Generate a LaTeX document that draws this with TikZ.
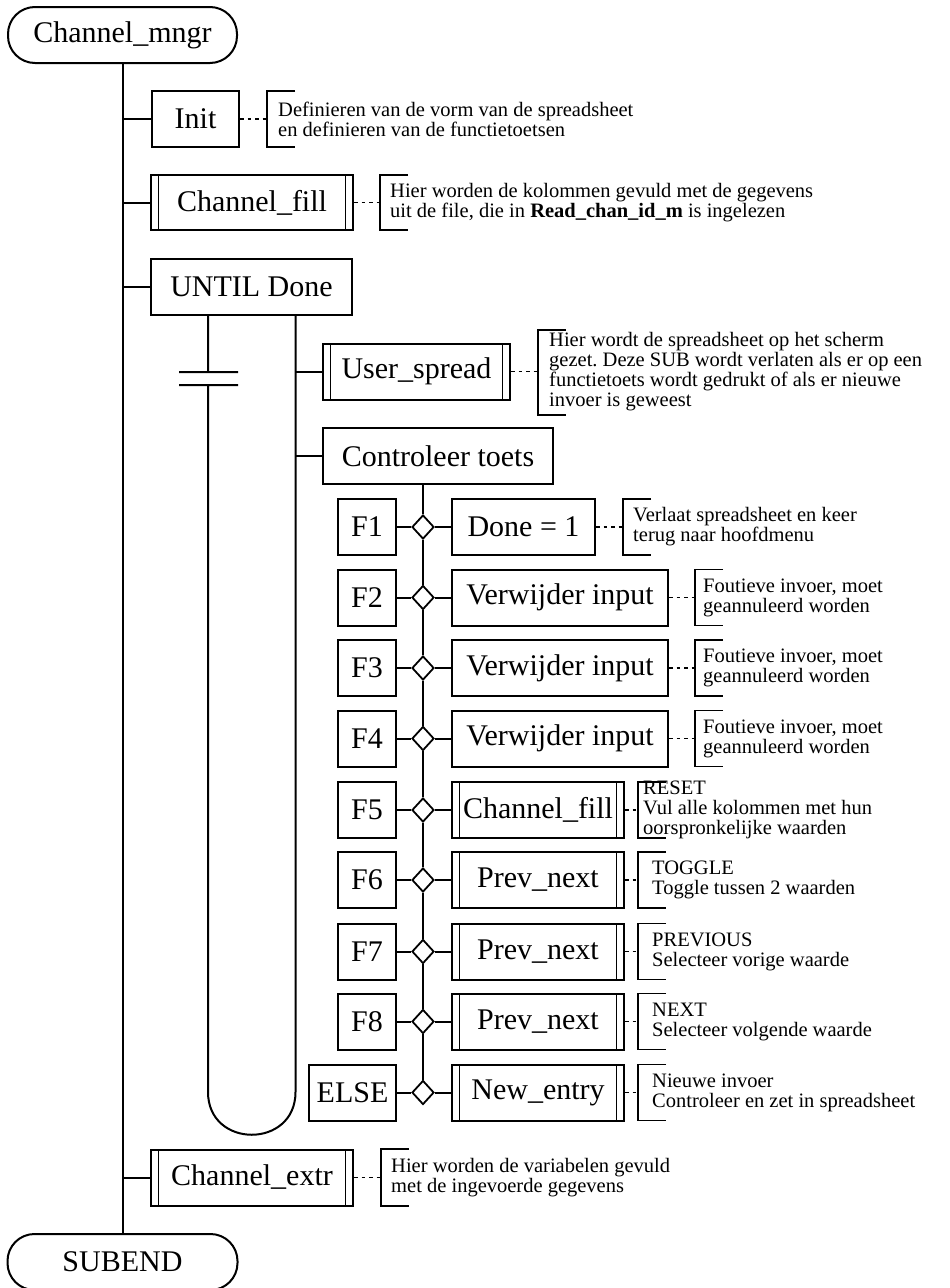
\documentclass[tikz,border=0pt]{standalone}
\usepackage{fontspec}
\setmainfont{Liberation Serif}
\usetikzlibrary{shapes.geometric}
\frenchspacing

% comment bracket: source node, name, bracket x, mid y, top y, bottom y, text x, text
\newcommand\cmt[8]{%
  \coordinate (#2) at (#3,#4);
  \draw[dots] (#1.east) -- (#2);
  \draw[brk] (#3+28,#5) -- (#3,#5) -- (#3,#6) -- (#3+28,#6);
  \node[note] (#2t) at (#7,#4) {#8};}

\tikzset{
  box/.style={draw, rectangle, minimum height=56pt, inner sep=0pt, line width=2pt,
    font=\fontsize{30}{32}\selectfont},
  term/.style={box, rounded corners=27pt},
  sub/.style={box, path picture={
    \draw[line width=1.8pt]
      ([xshift=7.5pt]path picture bounding box.north west) -- ([xshift=7.5pt]path picture bounding box.south west)
      ([xshift=-7.5pt]path picture bounding box.north east) -- ([xshift=-7.5pt]path picture bounding box.south east);}},
  dia/.style={diamond, draw, fill=white, minimum width=22pt, minimum height=24pt,
    inner sep=0pt, line width=1.8pt},
  dots/.style={line width=1.5pt, dash pattern=on 3.5pt off 4pt},
  brk/.style={line width=1.6pt},
  note/.style={anchor=west, align=left, inner sep=0pt, font=\fontsize{20.5}{20}\selectfont},
  wire/.style={line width=2pt}
}

\begin{document}
\begin{tikzpicture}[x=1pt,y=-1pt]
\fill[white] (0,0) rectangle (950,1288);
\useasboundingbox (0,0) rectangle (950,1288);

% main sequence
\node[term, minimum width=229pt] (cm) at (122.5,35) {Channel\_mngr};
\node[box, minimum width=87pt] (init) at (195.5,119) {Init};
\node[sub, minimum width=202pt, minimum height=55pt] (cf) at (252,202.5) {Channel\_fill};
\node[box, minimum width=201pt] (ud) at (251.5,287) {UNTIL Done};
\node[sub, minimum width=202pt] (cx) at (252,1177.5) {Channel\_extr};
\node[term, minimum width=230pt] (se) at (122.5,1262) {SUBEND};

% loop body
\node[sub, minimum width=187pt] (us) at (416.5,371.5) {User\_spread};
\node[box, minimum width=230pt] (ct) at (438,456) {Controleer toets};

% case selection
\node[box, minimum width=58pt] (k1) at (367,527) {F1};
\node[box, minimum width=58pt] (k2) at (367,597.5) {F2};
\node[box, minimum width=58pt] (k3) at (367,668) {F3};
\node[box, minimum width=58pt] (k4) at (367,738.5) {F4};
\node[box, minimum width=58pt] (k5) at (367,810) {F5};
\node[box, minimum width=58pt] (k6) at (367,880) {F6};
\node[box, minimum width=58pt] (k7) at (367,951.5) {F7};
\node[box, minimum width=58pt] (k8) at (367,1021.5) {F8};
\node[box, minimum width=87pt] (k9) at (352.5,1092.5) {ELSE};

\node[dia] (d1) at (423,527) {};
\node[dia] (d2) at (423,597.5) {};
\node[dia] (d3) at (423,668) {};
\node[dia] (d4) at (423,738.5) {};
\node[dia] (d5) at (423,810) {};
\node[dia] (d6) at (423,880) {};
\node[dia] (d7) at (423,951.5) {};
\node[dia] (d8) at (423,1021.5) {};
\node[dia] (d9) at (423,1092.5) {};

\node[box, minimum width=143pt] (a1) at (523.5,527) {Done = 1};
\node[box, minimum width=216pt] (a2) at (560,597.5) {Verwijder input};
\node[box, minimum width=216pt] (a3) at (560,668) {Verwijder input};
\node[box, minimum width=216pt] (a4) at (560,738.5) {Verwijder input};
\node[sub, minimum width=172pt] (a5) at (538,810) {Channel\_fill};
\node[sub, minimum width=172pt] (a6) at (538,880) {Prev\_next};
\node[sub, minimum width=172pt] (a7) at (538,951.5) {Prev\_next};
\node[sub, minimum width=172pt] (a8) at (538,1021.5) {Prev\_next};
\node[sub, minimum width=172pt] (a9) at (538,1092.5) {New\_entry};

% connectors
\draw[wire] (cm.south) -- (se.north);
\foreach \n in {init,cf,ud,cx} \draw[wire] (\n.west) -- (\n.west -| cm.south);

\coordinate (lx) at (208,0);
\coordinate (rx) at (295.5,0);
\draw[wire] (ud.south -| lx) -- (208,372)
  (179,372) -- (238,372) (179,385) -- (238,385)
  (208,385) -- (208,1092) .. controls (208,1149) and (295.5,1149) .. (295.5,1092)
  -- (ud.south -| rx);
\draw[wire] (us.west) -- (us.west -| rx) (ct.west) -- (ct.west -| rx);

\coordinate (cs) at (423,0);
\draw[wire] (ct.south -| cs) -- (d1.north);
\foreach \i [evaluate=\i as \j using int(\i+1)] in {1,...,8}
  \draw[wire] (d\i.south) -- (d\j.north);
\foreach \i in {1,...,9}
  \draw[wire] (k\i.east) -- (d\i.west) (d\i.east) -- (a\i.west);

% comments
\cmt{init}{c0}{267}{119}{91}{147}{278}{Definieren van de vorm van de spreadsheet\\en definieren van de functietoetsen}
\cmt{cf}{c1}{380}{202.5}{175}{230}{390}{Hier worden de kolommen gevuld met de gegevens\\uit de file, die in \textbf{Read\_chan\_id\_m} is ingelezen}
\cmt{us}{c2}{538}{371.5}{330}{415}{549}{Hier wordt de spreadsheet op het scherm\\gezet. Deze SUB wordt verlaten als er op een\\functietoets wordt gedrukt of als er nieuwe\\invoer is geweest}
\cmt{a1}{c3}{623}{527}{499}{555}{633}{Verlaat spreadsheet en keer\\terug naar hoofdmenu}
\cmt{a2}{c4}{695}{597.5}{569.5}{625.5}{703}{Foutieve invoer, moet\\geannuleerd worden}
\cmt{a3}{c5}{695}{668}{640}{696}{703}{Foutieve invoer, moet\\geannuleerd worden}
\cmt{a4}{c6}{695}{738.5}{710.5}{766.5}{703}{Foutieve invoer, moet\\geannuleerd worden}
\cmt{a5}{c7}{638}{810}{782}{838}{643}{RESET\\Vul alle kolommen met hun\\oorspronkelijke waarden}
\cmt{a6}{c8}{638}{880}{852}{908}{652}{TOGGLE\\Toggle tussen 2 waarden}
\cmt{a7}{c9}{638}{951.5}{923.5}{979.5}{652}{PREVIOUS\\Selecteer vorige waarde}
\cmt{a8}{c10}{638}{1021.5}{993.5}{1049.5}{652}{NEXT\\Selecteer volgende waarde}
\cmt{a9}{c11}{638}{1092.5}{1064.5}{1120.5}{652}{Nieuwe invoer\\Controleer en zet in spreadsheet}
\cmt{cx}{c12}{381}{1177.5}{1149}{1206}{391}{Hier worden de variabelen gevuld\\met de ingevoerde gegevens}
\end{tikzpicture}
\end{document}
